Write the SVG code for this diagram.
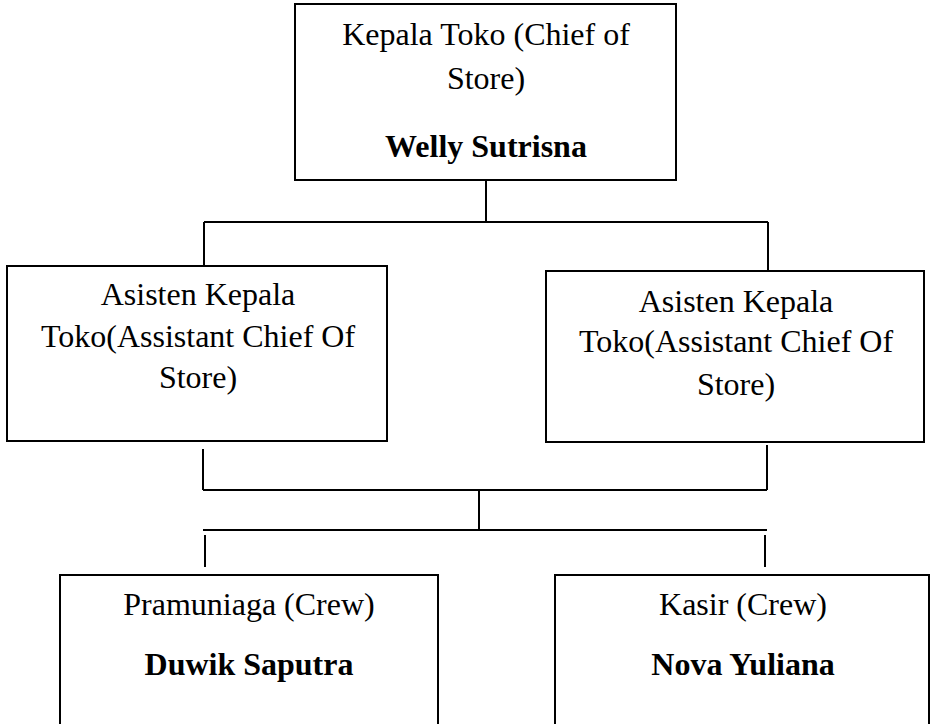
<svg xmlns="http://www.w3.org/2000/svg" width="933" height="724" viewBox="0 0 933 724">
<style>
.box{fill:#fff;stroke:#000;stroke-width:2}
.t{font-family:"Liberation Serif","Times New Roman",serif;font-size:32px;fill:#000;text-anchor:middle}
.b{font-weight:bold}
.c{stroke:#000;stroke-width:2;fill:none}
</style>
<rect width="933" height="724" fill="#fff"/>
<g id="connectors">
<path class="c" d="M486 180V222M204 222H768M204 222V266M768 222V271"/>
<path class="c" d="M203 449V490M767 445V490M203 490H767M479 490V530M203 530H767M205 535V567M765 535V567"/>
</g>
<g id="chief">
<rect class="box" x="295" y="4" width="381" height="176"/>
<text class="t" x="486" y="45">Kepala Toko (Chief of</text>
<text class="t" x="486" y="89">Store)</text>
<text class="t b" x="486" y="157">Welly Sutrisna</text>
</g>
<g id="asst-left">
<rect class="box" x="7" y="266" width="380" height="175"/>
<text class="t" x="198" y="305">Asisten Kepala</text>
<text class="t" x="198" y="347">Toko(Assistant Chief Of</text>
<text class="t" x="198" y="388">Store)</text>
</g>
<g id="asst-right">
<rect class="box" x="546" y="271" width="378" height="171"/>
<text class="t" x="736" y="312">Asisten Kepala</text>
<text class="t" x="736" y="352">Toko(Assistant Chief Of</text>
<text class="t" x="736" y="395">Store)</text>
</g>
<g id="crew-left">
<rect class="box" x="60" y="575" width="378" height="160"/>
<text class="t" x="249" y="615">Pramuniaga (Crew)</text>
<text class="t b" x="249" y="675">Duwik Saputra</text>
</g>
<g id="crew-right">
<rect class="box" x="555" y="575" width="374" height="160"/>
<text class="t" x="743" y="615">Kasir (Crew)</text>
<text class="t b" x="743" y="675">Nova Yuliana</text>
</g>
</svg>
